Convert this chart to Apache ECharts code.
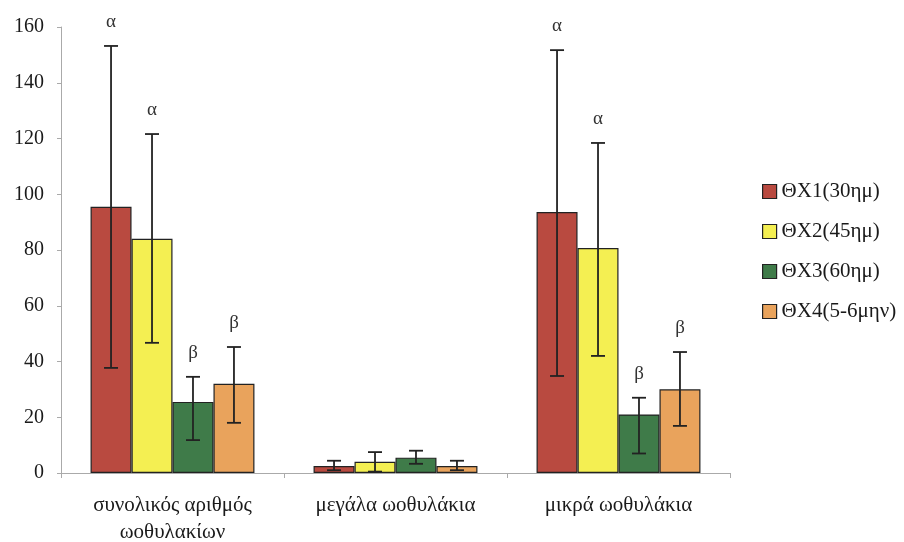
<!DOCTYPE html>
<html>
<head>
<meta charset="utf-8">
<script src="https://cdn.jsdelivr.net/npm/echarts@6/dist/echarts.min.js"></script>
<style>html,body{margin:0;padding:0;background:#fff}#c{width:904px;height:542px}</style>
</head>
<body>
<div id="c"></div>
<script>
const categories = ['συνολικός αριθμός\nωοθυλακίων', 'μεγάλα ωοθυλάκια', 'μικρά ωοθυλάκια'];
const seriesNames = ['ΘΧ1(30ημ)', 'ΘΧ2(45ημ)', 'ΘΧ3(60ημ)', 'ΘΧ4(5-6μην)'];
const means1 = [95.5, 2.5, 93.6];
const means2 = [84, 4, 80.7];
const means3 = [25.5, 5.5, 21];
const means4 = [32, 2.5, 30];
const low1 = [37.7, 1, 34.8];
const high1 = [153.2, 4.4, 151.7];
const low2 = [46.7, 0.5, 42];
const high2 = [121.6, 7.5, 118.4];
const low3 = [11.8, 3.3, 7];
const high3 = [34.5, 8, 27];
const low4 = [18, 1, 16.9];
const high4 = [45.2, 4.4, 43.4];
const letters1 = ['α', '', 'α'];
const letters2 = ['α', '', 'α'];
const letters3 = ['β', '', 'β'];
const letters4 = ['β', '', 'β'];
const yTicks = [0, 20, 40, 60, 80, 100, 120, 140, 160];

const colors = ['#b94a40', '#f4ef52', '#3f7b49', '#e9a35c'];
const means = [means1, means2, means3, means4];
const lows = [low1, low2, low3, low4];
const highs = [high1, high2, high3, high4];
const letters = [letters1, letters2, letters3, letters4];
const gapRatio = 0.265;
const serif = '"Liberation Serif", "DejaVu Serif", serif';

const series = [];
seriesNames.forEach((n, i) => {
  series.push({
    name: n, type: 'bar', barGap: '0%', barCategoryGap: (gapRatio * 100) + '%',
    data: means[i],
    itemStyle: { color: colors[i], borderColor: '#222', borderWidth: 1.2 },
    z: 2
  });
});
seriesNames.forEach((n, i) => {
  series.push({
    type: 'custom', name: n + '_err', z: 5, silent: true,
    data: categories.map((c, k) => [k, lows[i][k], highs[i][k], letters[i][k]]),
    renderItem: function (params, api) {
      const k = api.value(0);
      const band = api.size([1, 0])[0];
      const bw = band * (1 - gapRatio) / 4;
      const pLow = api.coord([k, api.value(1)]);
      const pHigh = api.coord([k, api.value(2)]);
      const x = pLow[0] + (i - 1.5) * bw;
      const cap = 7;
      const style = { stroke: '#222', lineWidth: 1.8 };
      const children = [
        { type: 'line', shape: { x1: x, y1: pLow[1], x2: x, y2: pHigh[1] }, style: style },
        { type: 'line', shape: { x1: x - cap, y1: pLow[1], x2: x + cap, y2: pLow[1] }, style: style },
        { type: 'line', shape: { x1: x - cap, y1: pHigh[1], x2: x + cap, y2: pHigh[1] }, style: style }
      ];
      const letter = letters[i][k];
      if (letter) {
        children.push({ type: 'text', style: { text: letter, x: x, y: pHigh[1] - 24, align: 'center', verticalAlign: 'middle', fill: '#333', font: '19px ' + serif } });
      }
      return { type: 'group', children: children };
    }
  });
});

const chart = echarts.init(document.getElementById('c'));
chart.setOption({
  animation: false,
  backgroundColor: '#fff',
  grid: { left: 61, right: 174, top: 27, bottom: 69, outerBoundsMode: 'none', containLabel: false },
  legend: {
    data: seriesNames.map(n => ({ name: n, icon: 'rect', itemStyle: { borderColor: '#222', borderWidth: 1.2 } })),
    orient: 'vertical', left: 757, top: 176,
    itemWidth: 14, itemHeight: 14, itemGap: 19,
    textStyle: { fontFamily: serif, fontSize: 21, color: '#1a1a1a', lineHeight: 21 }
  },
  xAxis: {
    type: 'category', data: categories,
    axisLine: { lineStyle: { color: '#aaa' } },
    axisTick: { show: true, length: 5, lineStyle: { color: '#aaa' } },
    axisLabel: { fontFamily: serif, fontSize: 21, color: '#1a1a1a', margin: 19, lineHeight: 27 }
  },
  yAxis: {
    type: 'value', min: 0, max: 160, interval: 20,
    axisLine: { show: true, lineStyle: { color: '#aaa' } },
    axisTick: { show: true, length: 4, lineStyle: { color: '#aaa' } },
    splitLine: { show: false },
    axisLabel: { fontFamily: serif, fontSize: 20, color: '#1a1a1a', margin: 17,
      formatter: v => yTicks.includes(v) ? String(v) : '' }
  },
  series: series
});
</script>
</body>
</html>
